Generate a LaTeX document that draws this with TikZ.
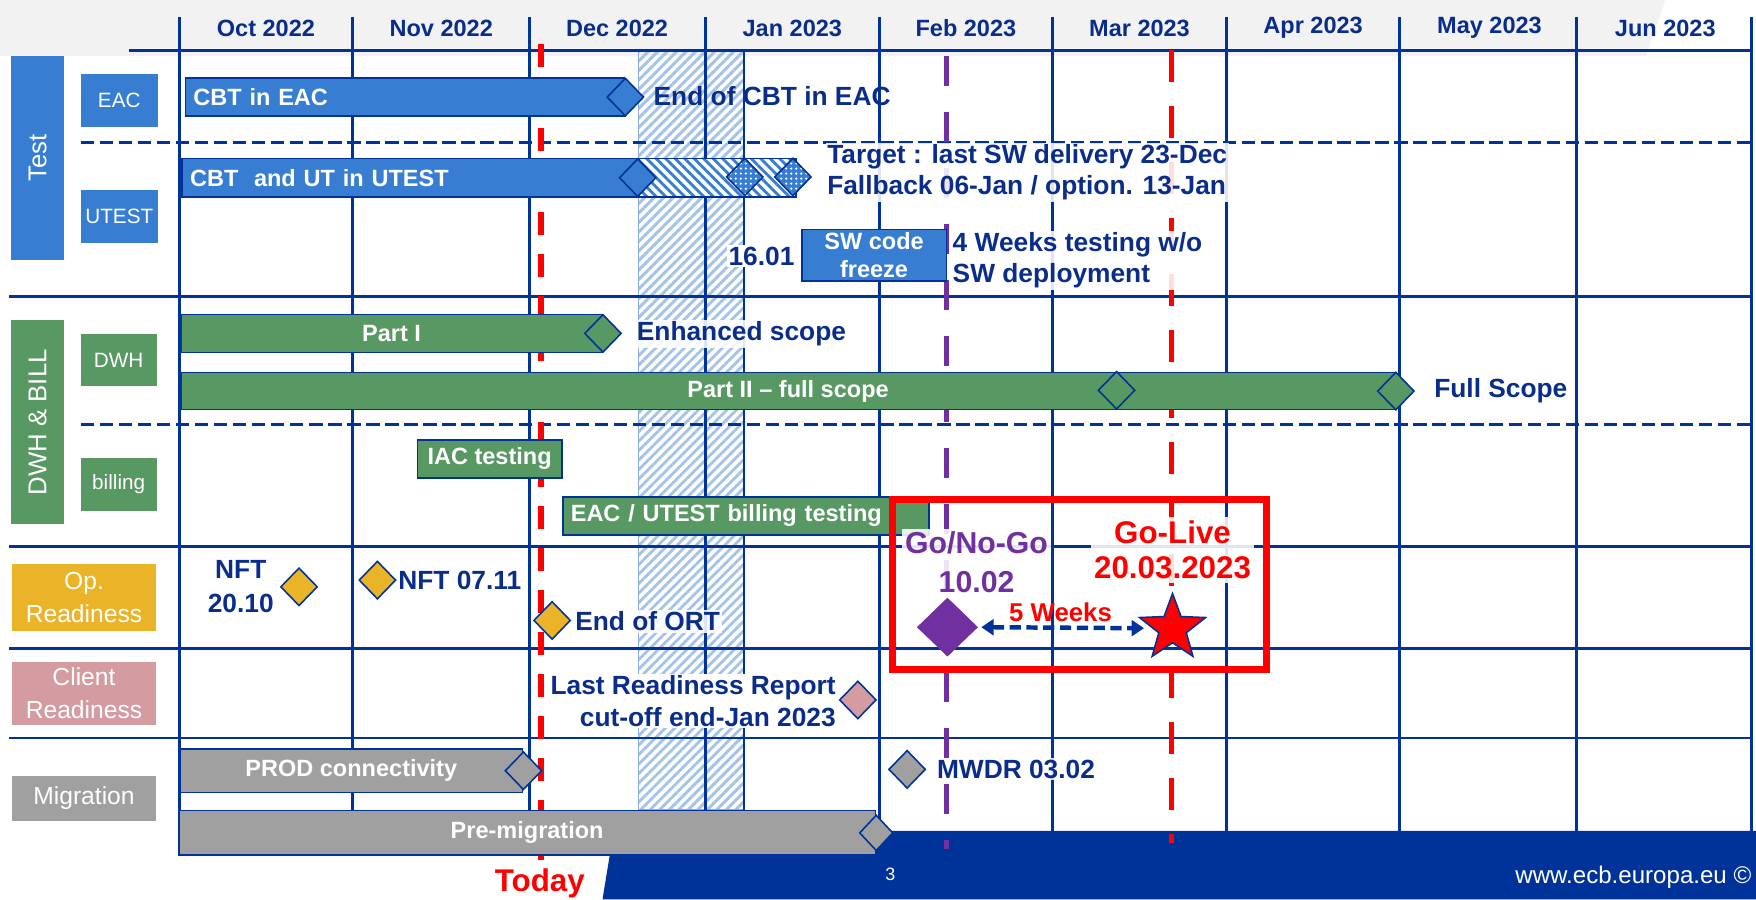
\documentclass[tikz,border=0pt]{standalone}
\usepackage{fontspec}
\setmainfont{Liberation Sans}
\usetikzlibrary{shapes.geometric,patterns.meta,arrows.meta}
\definecolor{ecbline}{RGB}{0,51,153}
\definecolor{ecbtext}{RGB}{10,45,140}
\definecolor{tblue}{RGB}{55,125,210}
\definecolor{tgreen}{RGB}{88,152,98}
\definecolor{tamber}{RGB}{235,180,40}
\definecolor{tpink}{RGB}{212,155,160}
\definecolor{tgray}{RGB}{160,160,160}
\definecolor{tpurple}{RGB}{112,48,160}
\definecolor{hatchblue}{RGB}{165,195,232}
\definecolor{hatchedge}{RGB}{140,170,220}
\definecolor{hdrgray}{RGB}{242,242,242}
\newcommand{\fsz}[2]{\fontsize{#1}{#2}\selectfont}
\tikzset{
  gridline/.style={draw=ecbline, line width=2.6pt},
  griddash/.style={draw=ecbline, line width=2.4pt, dash pattern=on 12pt off 5pt},
  grpbox/.style={inner sep=0pt, text=white, align=center, font=\fsz{22}{30}},
  subbox/.style={inner sep=0pt, text=white, font=\fsz{18.5}{22}},
  bar/.style={draw=ecbline, line width=1.4pt, inner sep=0pt, minimum height=34pt, text=white, font=\fsz{21}{25}\bfseries, anchor=north west},
  ms/.style={diamond, draw=ecbline, line width=1.4pt, inner sep=0pt, minimum width=33pt, minimum height=34pt},
  lbl/.style={text=ecbtext, font=\fsz{23.5}{28}\bfseries, inner sep=1.5pt},
  wbg/.style={fill=white, fill opacity=0.87, text opacity=1},
  month/.style={text=ecbtext, font=\fsz{21}{25}\bfseries},
  vdash/.style={line width=5pt},
}
\begin{document}
\begin{tikzpicture}[x=1pt,y=-1pt]
\useasboundingbox (0,0) rectangle (1568,803);
% header band
\fill[hdrgray] (0,0) -- (1487,0) -- (1470,50) -- (0,50) -- cycle;
% hatched holiday band
\path[pattern={Lines[angle=45,distance=6pt,line width=2.6pt]}, pattern color=hatchblue, draw=hatchedge, line width=1pt] (570,45) rectangle (664,723);
\draw[ecbline, line width=1.8pt] (664,45) -- (664,723);
% grid
\foreach \gx in {160,315,473,630,785,940,1095,1250,1408,1564}
  \draw[gridline] (\gx,15) -- (\gx,742);
\draw[gridline] (115,45) -- (1564,45);
\draw[gridline] (8,265) -- (1564,265);
\draw[gridline] (8,488) -- (1564,488);
\draw[gridline] (8,579) -- (1564,579);
\draw[gridline] (8,659) -- (1564,659);
\draw[griddash] (72,127) -- (1564,127);
\draw[griddash] (72,379) -- (1564,379);
% months
\node[month] (m1) at (237.5,25) {Oct 2022};
\node[month] (m2) at (394,25) {Nov 2022};
\node[month] (m3) at (551,25) {Dec 2022};
\node[month] (m4) at (707.5,25) {Jan 2023};
\node[month] (m5) at (862.5,25) {Feb 2023};
\node[month] (m6) at (1017.5,25) {Mar 2023};
\node[month] (m7) at (1172.5,25) {Apr 2023};
\node[month] (m8) at (1330,25) {May 2023};
\node[month] (m9) at (1487,25) {Jun 2023};
% footer band
\fill[ecbline] (548,742) -- (1568,742) -- (1568,803) -- (538,803) -- cycle;
% dashed vertical markers
\draw[vdash, red, dash pattern=on 21pt off 16.5pt] (483,39) -- (483,768);
\draw[vdash, tpurple, dash pattern=on 27pt off 23pt] (845,50) -- (845,758);
\draw[vdash, red, dash pattern=on 28pt off 22pt] (1046,45) -- (1046,753);
% group boxes
\node[grpbox, fill=tblue, minimum width=47pt, minimum height=182pt] (gtest) at (33.5,141) {\rotatebox{90}{\fsz{23}{27}Test}};
\node[subbox, fill=tblue, minimum width=69pt, minimum height=47pt] (geac) at (106.5,89.5) {EAC};
\node[subbox, fill=tblue, minimum width=69pt, minimum height=47pt] (gutest) at (106.5,193.5) {UTEST};
\node[grpbox, fill=tgreen, minimum width=47pt, minimum height=182pt] (gdwhbill) at (33.5,377) {\rotatebox{90}{\fsz{23}{27}DWH \& BILL}};
\node[subbox, fill=tgreen, minimum width=68pt, minimum height=47pt] (gdwh) at (106,321.5) {DWH};
\node[subbox, fill=tgreen, minimum width=68pt, minimum height=47pt] (gbill) at (106,432.5) {billing};
\node[grpbox, fill=tamber, minimum width=128pt, minimum height=59pt] (gop) at (75,533.5) {Op.\\Readiness};
\node[grpbox, fill=tpink, minimum width=128pt, minimum height=56pt] (gclient) at (75,619) {Client\\Readiness};
\node[grpbox, fill=tgray, minimum width=128pt, minimum height=40pt] (gmig) at (75,713) {Migration};
% TEST bars
\node[bar, fill=tblue, minimum width=392pt, text width=378pt, inner xsep=7pt, align=left] (cbteac) at (165,69) {CBT in EAC};
\node[ms, fill=tblue] (dcbteac) at (cbteac.east) {};
\node[lbl, anchor=west] (tcbteac) at (582,86) {End of CBT in EAC};
\node[bar, fill=tblue, minimum width=406pt, text width=392pt, inner xsep=7pt, align=left] (cbtut) at (162,141) {CBT\ \ and UT in UTEST};
\node[bar, anchor=west, minimum width=140pt, preaction={fill=white}, pattern={Lines[angle=-45,distance=6pt,line width=2.6pt]}, pattern color=tblue] (cbtext) at (cbtut.east) {};
\node[ms, fill=tblue] (dcbtut) at (cbtut.east) {};
\node[ms, preaction={fill=tblue}, pattern={Dots[distance=4.5pt,radius=1.1pt]}, pattern color=white] (dfb1) at (665,158) {};
\node[ms, preaction={fill=tblue}, pattern={Dots[distance=4.5pt,radius=1.1pt]}, pattern color=white] (dfb2) at (708,158) {};
\node[lbl, wbg, anchor=west, align=left] (ttarget) at (737,154) {Target : last SW delivery 23-Dec\\Fallback 06-Jan / option. 13-Jan};
\node[lbl, fill=white, anchor=center] (t1601) at (680,229) {16.01};
\node[draw=ecbline, line width=1.4pt, fill=tblue, text=white, font=\fsz{21}{25}\bfseries, align=center, inner sep=0pt, minimum width=129pt, minimum height=46pt] (swfreeze) at (780.5,228) {SW code\\freeze};
\node[lbl, wbg, anchor=west, align=left] (t4weeks) at (849,232.5) {4 Weeks testing w/o\\SW deployment};
% DWH bars
\node[bar, fill=tgreen, minimum width=376pt] (part1) at (161,280) {Part I};
\node[ms, fill=tgreen] (dpart1) at (part1.east) {};
\node[lbl, wbg, anchor=west] (tenh) at (567,298) {Enhanced scope};
\node[bar, fill=tgreen, minimum width=1084pt, minimum height=33pt] (part2) at (161,332) {Part II -- full scope};
\node[ms, fill=tgreen] (dpart2a) at (997,348.5) {};
\node[ms, fill=tgreen] (dpart2b) at (part2.east) {};
\node[lbl, anchor=west] (tfull) at (1279,349) {Full Scope};
\node[bar, fill=tgreen, minimum width=129pt] (iac) at (372,392) {IAC testing};
\node[bar, fill=tgreen, minimum width=327pt, text width=313pt, inner xsep=7pt, align=left] (billtest) at (502,443) {EAC / UTEST billing testing};
% Op readiness
\node[ms, fill=tamber] (dnft1) at (267,524) {};
\node[lbl, align=center, font=\fsz{23.5}{30}\bfseries] (tnft1) at (215,524) {NFT\\20.10};
\node[ms, fill=tamber] (dnft2) at (337,518) {};
\node[lbl, anchor=west] (tnft2) at (354,518) {NFT 07.11};
\node[ms, fill=tamber] (dort) at (493,554) {};
\node[lbl, wbg, anchor=west] (tort) at (512,555) {End of ORT};
% Client readiness
\node[lbl, fill=white, anchor=east, align=right] (tlast) at (748,626) {Last Readiness Report\\cut-off end-Jan 2023};
\node[ms, fill=tpink] (dclient) at (766,625) {};
% Migration
\node[bar, fill=tgray, minimum width=306pt, minimum height=39pt] (prod) at (160,668) {PROD connectivity};
\node[ms, fill=tgray] (dprod) at (prod.east) {};
\node[bar, fill=tgray, minimum width=622pt, minimum height=40pt] (premig) at (159,723) {Pre-migration};
\node[ms, fill=tgray, minimum width=30pt, minimum height=32pt] (dpremig) at (premig.east) {};
\node[ms, fill=tgray] (dmwdr) at (810,687) {};
\node[lbl, wbg, anchor=west] (tmwdr) at (835,687) {MWDR 03.02};
% Go / No-Go box
\draw[red, line width=6pt] (797,446) rectangle (1131,598);
\node[wbg, text=tpurple, font=\fsz{27}{34}\bfseries, align=center, inner sep=3pt] (tgonogo) at (872,502) {Go/No-Go\\10.02};
\node[wbg, text=red, font=\fsz{28}{32}\bfseries, align=center, inner sep=3pt] (tgolive) at (1047,491) {Go-Live\\20.03.2023};
\node[diamond, draw=tpurple, fill=tpurple, inner sep=0pt, minimum width=54pt, minimum height=52pt] (gonogo) at (846,560) {};
\node[star, star points=5, star point ratio=2.4, draw=ecbline, line width=1.4pt, fill=red, inner sep=0pt, minimum size=62pt] (golive) at (1047,561) {};
\draw[ecbline, line width=4pt, dash pattern=on 10pt off 5pt, {Triangle[length=11pt,width=14pt]}-{Triangle[length=11pt,width=14pt]}, shorten <=3pt, shorten >=7pt] (gonogo.east) -- (golive.west);
\node[text=red, font=\fsz{23}{27}\bfseries, inner sep=0pt] (t5w) at (947,547) {5 Weeks};
% Today and footer
\node[text=red, font=\fsz{28}{32}\bfseries, inner sep=0pt] (ttoday) at (482,789) {Today};
\node[text=white, font=\fsz{16}{19}, inner sep=0pt] (tpage) at (795,781) {3};
\node[text=white, font=\fsz{21.5}{25}, inner sep=0pt, anchor=east] (turl) at (1564,783) {www.ecb.europa.eu ©};
\end{tikzpicture}
\end{document}
